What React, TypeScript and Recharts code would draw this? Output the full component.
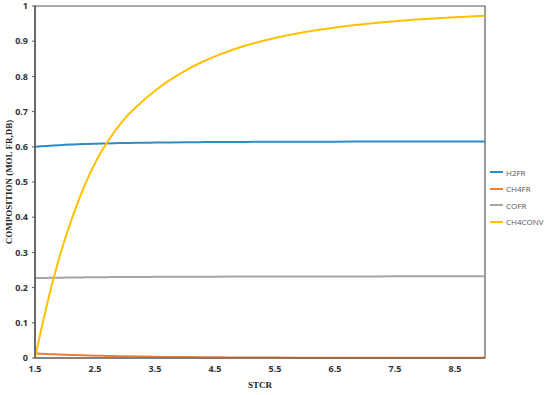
import React from 'react';
import { LineChart, Line, XAxis, YAxis, ReferenceArea, Label } from 'recharts';

const stcr = [1.5, 1.6, 1.7, 1.8, 1.9, 2.0, 2.1, 2.2, 2.3, 2.4, 2.5, 2.6, 2.7, 2.8, 2.9, 3.0, 3.25, 3.5, 3.75, 4.0, 4.25, 4.5, 4.75, 5.0, 5.5, 6.0, 6.5, 7.0, 7.5, 8.0, 8.5, 9.0];
const h2fr = [0.6, 0.6013, 0.6025, 0.6036, 0.6046, 0.6055, 0.6063, 0.607, 0.6077, 0.6083, 0.6088, 0.6093, 0.6097, 0.6101, 0.6105, 0.6108, 0.6115, 0.612, 0.6125, 0.6129, 0.6132, 0.6135, 0.6137, 0.6139, 0.6142, 0.6145, 0.6147, 0.6148, 0.6149, 0.615, 0.615, 0.615];
const ch4fr = [0.013, 0.0122, 0.0114, 0.0107, 0.01, 0.0094, 0.0088, 0.0082, 0.0077, 0.0072, 0.0067, 0.0063, 0.0059, 0.0055, 0.0052, 0.0049, 0.0042, 0.0036, 0.0031, 0.0027, 0.0023, 0.002, 0.0017, 0.0015, 0.0012, 0.001, 0.0008, 0.0007, 0.0006, 0.0005, 0.0005, 0.0004];
const cofr = [0.227, 0.2273, 0.2276, 0.2279, 0.2282, 0.2284, 0.2286, 0.2288, 0.229, 0.2292, 0.2294, 0.2295, 0.2297, 0.2298, 0.2299, 0.23, 0.2303, 0.2305, 0.2307, 0.2309, 0.231, 0.2311, 0.2312, 0.2313, 0.2315, 0.2316, 0.2317, 0.2318, 0.2319, 0.2319, 0.232, 0.232];
const ch4conv = [0.0, 0.078, 0.152, 0.22, 0.282, 0.338, 0.389, 0.436, 0.479, 0.518, 0.553, 0.585, 0.612, 0.637, 0.66, 0.681, 0.723, 0.759, 0.79, 0.816, 0.838, 0.857, 0.873, 0.887, 0.909, 0.926, 0.939, 0.949, 0.957, 0.963, 0.968, 0.972];

const xTicks = [1.5, 2.5, 3.5, 4.5, 5.5, 6.5, 7.5, 8.5];
const yTicks = [0, 0.1, 0.2, 0.3, 0.4, 0.5, 0.6, 0.7, 0.8, 0.9, 1];

const seriesNames = ['H2FR', 'CH4FR', 'COFR', 'CH4CONV'];
const seriesColors = ['#2E8BC8', '#ED7D31', '#A5A5A5', '#FFC000'];
const seriesValues = [h2fr, ch4fr, cofr, ch4conv];

const data = stcr.map((x, i) => {
  const row: Record<string, number> = { stcr: x };
  seriesNames.forEach((name, k) => {
    row[name] = seriesValues[k][i];
  });
  return row;
});

const tickStyle = { fontFamily: '"Open Sans", sans-serif', fontSize: 9, fontWeight: 700, fill: '#333' };
const titleFont = '"Liberation Serif", "Times New Roman", serif';

export default function App() {
  return (
    <div style={{ position: 'absolute', left: 0, top: 0, width: 550, height: 395, background: '#fff' }}>
      <LineChart width={550} height={395} data={data} margin={{ top: 6, right: 65, bottom: 7, left: 0 }}>
        <XAxis
          dataKey="stcr"
          type="number"
          domain={[1.5, 9]}
          ticks={xTicks}
          tickFormatter={(v) => v.toFixed(1)}
          tickLine={false}
          tickSize={0}
          tick={tickStyle}
          tickMargin={8}
          height={30}
          axisLine={{ stroke: '#595959' }}
        >
          <Label
            content={({ viewBox }: any) => (
              <text x={viewBox.x + viewBox.width / 2} y={viewBox.y + 30} textAnchor="middle"
                fontFamily={titleFont} fontSize={9} fontWeight={700} fill="#222">STCR</text>
            )}
          />
        </XAxis>
        <YAxis
          type="number"
          domain={[0, 1]}
          ticks={yTicks}
          tickLine={{ stroke: '#595959' }}
          tickSize={3}
          tick={tickStyle}
          tickMargin={4}
          width={35}
          axisLine={{ stroke: '#595959', strokeWidth: 1.5 }}
        >
          <Label
            content={({ viewBox }: any) => (
              <text x={10} y={viewBox.y + viewBox.height / 2} textAnchor="middle"
                transform={`rotate(-90 10 ${viewBox.y + viewBox.height / 2})`}
                dominantBaseline="middle"
                fontFamily={titleFont} fontSize={9} fontWeight={700} fill="#222">COMPOSITION (MOL FR,DB)</text>
            )}
          />
        </YAxis>
        <ReferenceArea x1={1.5} x2={9} y1={0} y2={1} fill="none" stroke="#595959" strokeWidth={1.2} ifOverflow="visible" />
        {seriesNames.map((name, k) => (
          <Line key={name} type="monotone" dataKey={name} stroke={seriesColors[k]} strokeWidth={2} dot={false} isAnimationActive={false} />
        ))}
      </LineChart>
      <div style={{ position: 'absolute', left: 490, top: 164, fontFamily: '"Open Sans", sans-serif', fontSize: 8, color: '#555' }}>
        {seriesNames.map((name, k) => (
          <div key={name} style={{ display: 'flex', alignItems: 'center', height: 16.5 }}>
            <span style={{ display: 'inline-block', width: 13, height: 2, background: seriesColors[k], marginRight: 3 }} />
            <span>{name}</span>
          </div>
        ))}
      </div>
    </div>
  );
}
